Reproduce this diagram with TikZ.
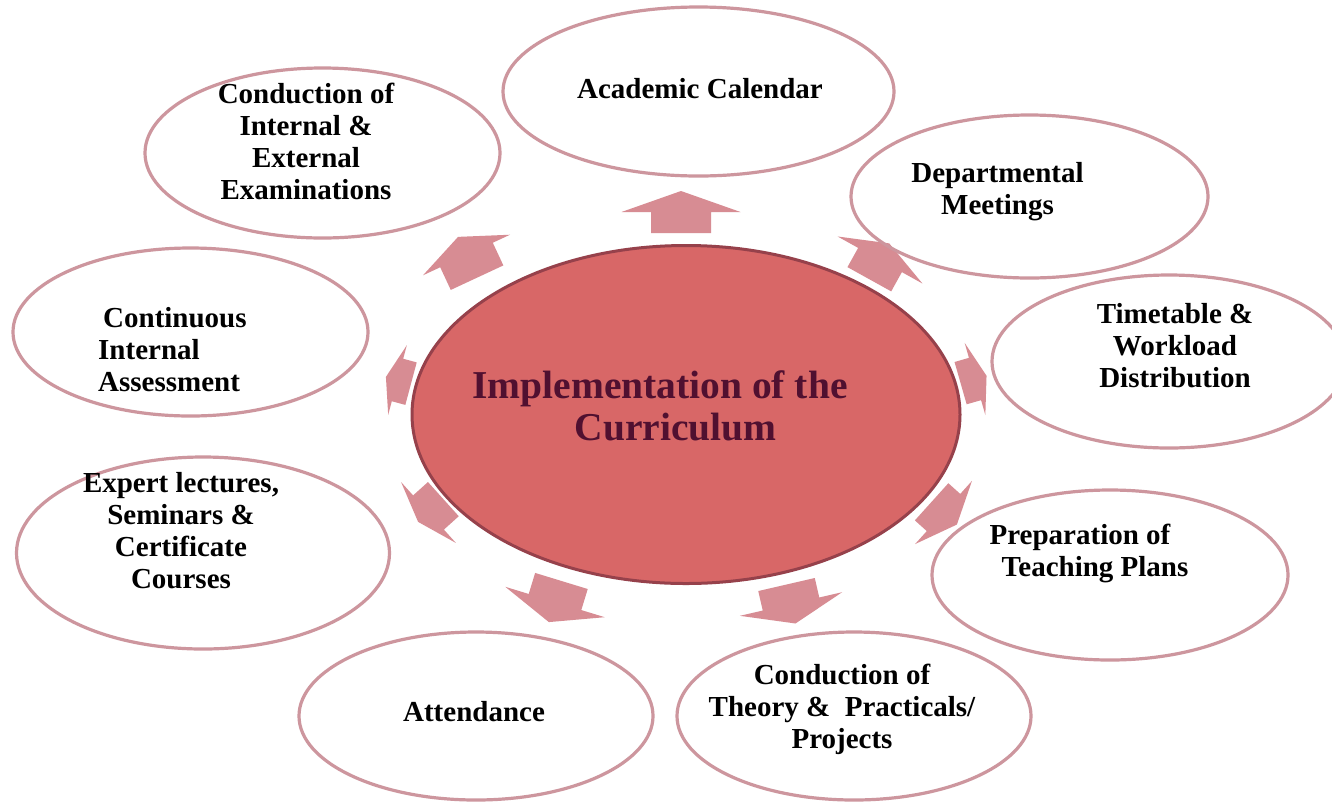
\documentclass[tikz,border=0pt]{standalone}
\usepackage{fontspec}
\setmainfont{Liberation Serif}
\usetikzlibrary{shapes.geometric}
\definecolor{ringcol}{RGB}{205,150,158}
\definecolor{hubfill}{RGB}{216,103,103}
\definecolor{hubline}{RGB}{150,65,75}
\definecolor{hubtext}{RGB}{80,16,48}
\definecolor{arrcol}{RGB}{215,140,147}
% block arrow: x, y (mid of head base), angle, head length, head width, shaft length, shaft width
\newcommand{\blkarrow}[7]{%
  \fill[arrcol,shift={(#1,#2)},rotate=#3] (#4,0) -- (0,#5/2) -- (0,#7/2) -- (-#6,#7/2)
     -- (-#6,-#7/2) -- (0,-#7/2) -- (0,-#5/2) -- cycle;}
\begin{document}
\begin{tikzpicture}[x=1pt,y=-1pt,
  ring/.style={ellipse,draw=ringcol,line width=3.2pt,inner sep=0pt},
  lbl/.style={font=\bfseries\fontsize{29}{32}\selectfont,align=center,inner sep=0pt,text=black},
  hub/.style={ellipse,draw=hubline,line width=3pt,fill=hubfill,inner sep=0pt},
  hublbl/.style={font=\bfseries\fontsize{39.5}{42}\selectfont,align=center,inner sep=0pt,text=hubtext}]
\useasboundingbox (0,0) rectangle (1332,804);
\clip (0,0) rectangle (1332,804);
\fill[white] (0,0) rectangle (1332,804);

% arrows
\blkarrow{681}{212}{90}{21}{119}{21}{60}
\blkarrow{880}{260}{61}{19}{97}{22}{50}
\blkarrow{975}{379}{16}{12}{75}{15}{44}
\blkarrow{943.5}{512.5}{-42}{18}{85}{16}{50}
\blkarrow{791}{604}{-77}{20}{105}{20}{58}
\blkarrow{555}{602}{-107}{21}{104}{22}{55}
\blkarrow{428.5}{512.5}{-138}{14}{82}{20}{46}
\blkarrow{397.5}{380}{165}{12}{72}{14}{44}
\blkarrow{466.5}{255}{115}{20}{96}{25}{58}

% hub
\node[hub,minimum width=548pt,minimum height=338pt] (hub) at (686,414.5) {};
\node[hublbl] (hubt) at (660,405.5) {Implementation of the\\\hspace*{31pt}Curriculum};

% outer rings
\node[ring,minimum width=391pt,minimum height=169pt] (acad) at (698.5,91.5) {};
\node[ring,minimum width=357pt,minimum height=163pt] (dept) at (1029.5,196.5) {};
\node[ring,minimum width=354pt,minimum height=173pt] (time) at (1169,361.5) {};
\node[ring,minimum width=356pt,minimum height=170pt] (prep) at (1110,575) {};
\node[ring,minimum width=354pt,minimum height=168pt] (theo) at (854,716) {};
\node[ring,minimum width=354pt,minimum height=168pt] (attn) at (476,716) {};
\node[ring,minimum width=373pt,minimum height=192pt] (expt) at (203,553) {};
\node[ring,minimum width=355pt,minimum height=168pt] (cont) at (190.5,332) {};
\node[ring,minimum width=355pt,minimum height=170pt] (exam) at (322.5,153) {};

% labels
\node[lbl] (acadt) at (700,88.5) {Academic Calendar};
\node[lbl] (deptt) at (997.5,192) {Departmental\\Meetings};
\node[lbl] (timet) at (1175,345.5) {Timetable \&\\Workload\\Distribution};
\node[lbl] (prept) at (1080,553) {Preparation of\\\hspace*{30pt}Teaching Plans};
\node[lbl] (theot) at (842,709) {Conduction of\\Theory \&\ \ Practicals/\\Projects};
\node[lbl] (attnt) at (474,712) {Attendance};
\node[lbl] (exptt) at (181,531) {Expert lectures,\\Seminars \&\\Certificate\\Courses};
\node[lbl,align=left,anchor=west] (contt) at (98,350) {\hspace*{5pt}Continuous\\Internal\\Assessment};
\node[lbl] (examt) at (306,141.5) {Conduction of\\Internal \&\\External\\Examinations};
\end{tikzpicture}
\end{document}
